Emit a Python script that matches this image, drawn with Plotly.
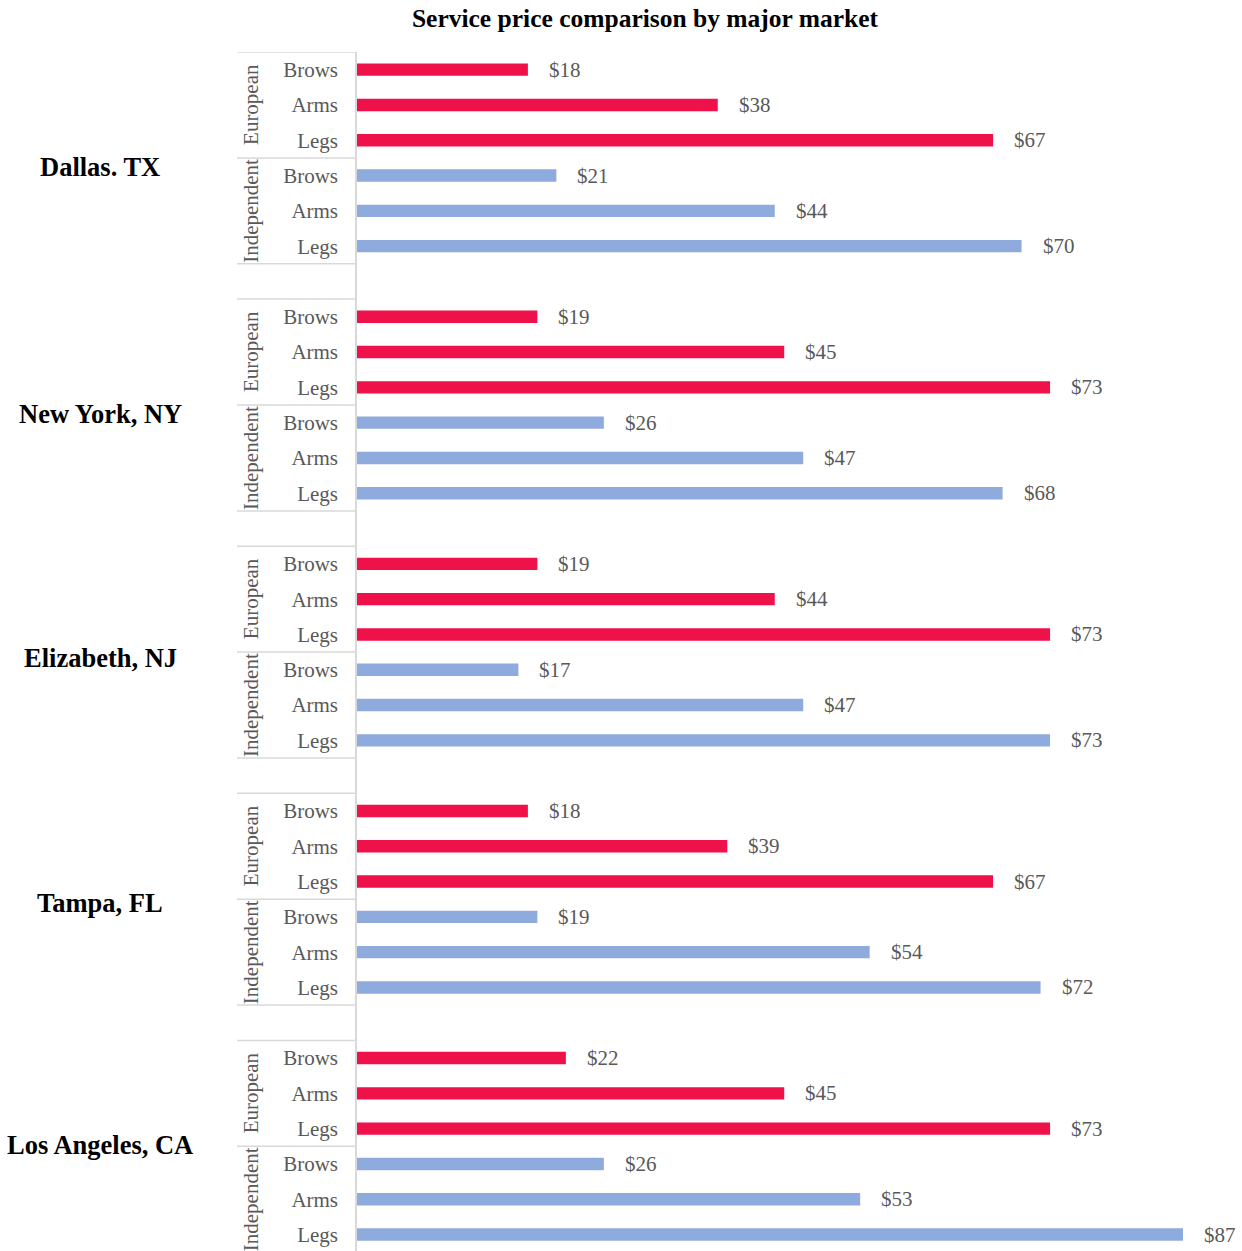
import plotly.graph_objects as go

# Markets, provider groups and services
cities = ["Dallas. TX", "New York, NY", "Elizabeth, NJ", "Tampa, FL", "Los Angeles, CA"]
groups = ["European", "Independent"]
services = ["Brows", "Arms", "Legs"]

# Prices (USD) per market, in service order
european = [
    [18, 38, 67],
    [19, 45, 73],
    [19, 44, 73],
    [18, 39, 67],
    [22, 45, 73],
]
independent = [
    [21, 44, 70],
    [26, 47, 68],
    [17, 47, 73],
    [19, 54, 72],
    [26, 53, 87],
]

RED = "#EF1149"
BLUE = "#8FAADC"
GRAY = "#595959"
LINE = "#D9D9D9"
FONT = "Liberation Serif, Times New Roman, serif"

W, H = 1242, 1251
L, T = 357, 52
PLOT_W = W - L
SLOTS_PER_CITY = len(groups) * len(services) + 1  # one blank slot between markets
SLOT_PX = 35.3
PX_PER_USD = 9.494


def px_to_paper_x(px):
    return (px - L) / PLOT_W


fig = go.Figure()

tickvals, ticktext = [], []
annotations = []
shapes = []
city_offsets = [0.26, 0.25, 0.17, 0.11, -0.04]

for c, city in enumerate(cities):
    base = c * SLOTS_PER_CITY
    for g, (gname, vals, color) in enumerate(
        [("European", european[c], RED), ("Independent", independent[c], BLUE)]
    ):
        ys = [base + g * len(services) + k for k in range(len(services))]
        fig.add_trace(
            go.Bar(
                x=vals,
                y=ys,
                orientation="h",
                marker=dict(color=color, line=dict(width=0)),
                width=0.35,
                showlegend=False,
                name=gname,
                hoverinfo="x",
            )
        )
        for yv, v, s in zip(ys, vals, services):
            tickvals.append(yv)
            ticktext.append(s)
            annotations.append(
                dict(
                    x=v, y=yv, xref="x", yref="y",
                    text=f"${v}", showarrow=False,
                    xanchor="left", yanchor="middle", xshift=19,
                    font=dict(family=FONT, size=21, color=GRAY),
                )
            )
        # rotated group label
        annotations.append(
            dict(
                x=px_to_paper_x(251), y=base + g * len(services) + 1,
                xref="paper", yref="y",
                text=gname, textangle=-90, showarrow=False,
                xanchor="center", yanchor="middle",
                font=dict(family=FONT, size=21, color=GRAY),
            )
        )
    # market label
    annotations.append(
        dict(
            x=px_to_paper_x(100), y=base + 2.5 + city_offsets[c],
            xref="paper", yref="y",
            text=f"<b>{city}</b>", showarrow=False,
            xanchor="center", yanchor="middle",
            font=dict(family=FONT, size=26.5, color="black"),
        )
    )
    # separator lines of the category axis
    for yl in (base - 0.5, base + 2.5, base + 5.5):
        shapes.append(
            dict(
                type="line", xref="paper", yref="y",
                x0=px_to_paper_x(237), x1=0, y0=yl, y1=yl,
                line=dict(color=LINE, width=1.5),
            )
        )

y_bottom = (H - T) / SLOT_PX - 0.5

fig.update_layout(
    width=W,
    height=H,
    margin=dict(l=L, r=0, t=T, b=0),
    paper_bgcolor="white",
    plot_bgcolor="white",
    barmode="overlay",
    title=dict(
        text="<b>Service price comparison by major market</b>",
        x=645 / W, xanchor="center", xref="container",
        y=1 - 18 / H, yanchor="middle", yref="container",
        font=dict(family=FONT, size=25.5, color="black"),
    ),
    xaxis=dict(
        visible=False,
        range=[0, PLOT_W / PX_PER_USD],
        showgrid=False, zeroline=False,
    ),
    yaxis=dict(
        range=[y_bottom, -0.5],
        tickmode="array",
        tickvals=tickvals,
        ticktext=ticktext,
        ticks="",
        showgrid=False,
        zeroline=False,
        showline=True,
        linecolor=LINE,
        linewidth=1.5,
        ticklabelstandoff=13,
        tickfont=dict(family=FONT, size=21, color=GRAY),
    ),
    annotations=annotations,
    shapes=shapes,
)

fig.write_html("out.html")
